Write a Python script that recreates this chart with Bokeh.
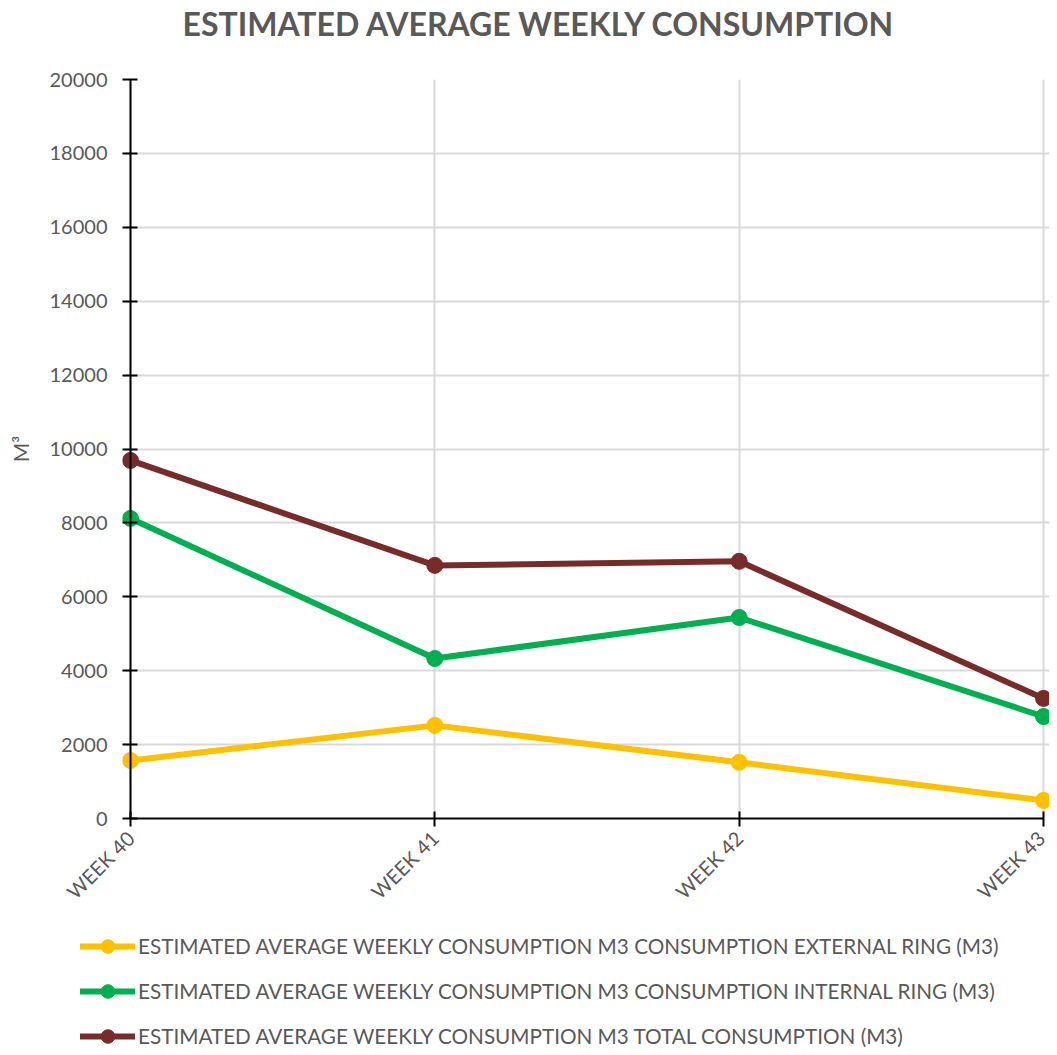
import math
from bokeh.plotting import figure
from bokeh.layouts import column
from bokeh.models import (ColumnDataSource, Range1d, FixedTicker,
                          Legend, LegendItem, Span, Label)
from bokeh.embed import file_html
from bokeh.resources import INLINE

# ---- data ----
weeks = ["WEEK 40", "WEEK 41", "WEEK 42", "WEEK 43"]
external_ring = [1570, 2520, 1520, 490]
internal_ring = [8120, 4330, 5440, 2760]
total_consumption = [9690, 6850, 6960, 3250]
series_names = [
    "ESTIMATED AVERAGE WEEKLY CONSUMPTION M3 CONSUMPTION EXTERNAL RING (M3)",
    "ESTIMATED AVERAGE WEEKLY CONSUMPTION M3 CONSUMPTION INTERNAL RING (M3)",
    "ESTIMATED AVERAGE WEEKLY CONSUMPTION M3 TOTAL CONSUMPTION (M3)",
]
y_ticks = list(range(0, 20001, 2000))
title_text = "ESTIMATED AVERAGE WEEKLY CONSUMPTION"
y_label = "M³"

colors = ["#FFC000", "#00B050", "#772C2A"]
grey = "#595959"
FONT = "Lato"
W = 1049
LEFT = 122  # left border of the main chart

xs = list(range(len(weeks)))
pad_l, pad_r = 0.02629, 0.0197


def strip(height):
    f = figure(width=W, height=height, output_backend="svg", toolbar_location=None,
               x_range=Range1d(0, 1), y_range=Range1d(0, 1),
               x_axis_location=None, y_axis_location=None, min_border=0)
    f.outline_line_color = None
    f.grid.visible = False
    return f


can_unalign = "frame_align" in figure.properties()

# ---- title strip ----
p0 = strip(67)
if can_unalign:
    p0.frame_align = False
title_x = 182 if can_unalign else 182 - LEFT
p0.add_layout(Label(x=title_x, y=44, x_units="screen", y_units="screen",
                    text=title_text, text_font=FONT, text_font_size="32px",
                    text_font_style="bold", text_color=grey,
                    text_align="left", text_baseline="middle"))

# ---- main chart ----
p = figure(width=W, height=848, output_backend="svg", toolbar_location=None,
           x_range=Range1d(xs[0] - pad_l, xs[-1] + pad_r), y_range=Range1d(0, 20000),
           min_border_left=LEFT, min_border_right=0, min_border_top=12,
           min_border_bottom=97)
p.outline_line_color = None

p.xaxis.ticker = FixedTicker(ticks=xs)
p.yaxis.ticker = FixedTicker(ticks=y_ticks)
p.xaxis.major_label_overrides = {i: w for i, w in enumerate(weeks)}
p.xaxis.major_label_orientation = math.pi / 4
p.xaxis.bounds = (xs[0], xs[-1])
p.yaxis.axis_label = y_label

p.grid.grid_line_color = "#d9d9d9"
p.grid.grid_line_width = 2

for ax in (p.xaxis, p.yaxis):
    ax.axis_line_color = "black"
    ax.axis_line_width = 2
    ax.major_tick_line_color = "black"
    ax.major_tick_line_width = 2
    ax.minor_tick_line_color = None
    ax.major_label_text_font = FONT
    ax.major_label_text_font_size = "20px"
    ax.major_label_text_color = grey
    ax.axis_label_text_font = FONT
    ax.axis_label_text_font_size = "21px"
    ax.axis_label_text_font_style = "normal"
    ax.axis_label_text_color = grey
p.xaxis.major_tick_in = 7
p.xaxis.major_tick_out = 8
p.xaxis.major_label_standoff = 8
p.xaxis.major_label_text_baseline = "top"
p.yaxis.axis_line_color = None
p.yaxis.major_tick_in = 15
p.yaxis.major_tick_out = 0
p.yaxis.major_label_standoff = 15
p.yaxis.axis_label_standoff = 14

# visible vertical axis line at the first category
p.add_layout(Span(location=xs[0], dimension="height", line_color="black", line_width=2))

for vals, color in zip([external_ring, internal_ring, total_consumption], colors):
    src = ColumnDataSource(dict(x=xs, y=vals))
    p.line("x", "y", source=src, line_width=6, line_color=color,
           line_join="round", line_cap="round")
    p.scatter("x", "y", source=src, size=16, fill_color=color, line_color=color)

# ---- legend strip below the chart (swatch-only renderers, nothing plotted) ----
nan = float("nan")
p2 = strip(132)
if can_unalign:
    p2.frame_align = False
items = []
for name, color in zip(series_names, colors):
    ln = p2.line(x=[nan], y=[nan], line_width=6, line_color=color, line_cap="round")
    sc = p2.scatter(x=[nan], y=[nan], size=14, fill_color=color, line_color=color)
    items.append(LegendItem(label=name, renderers=[ln, sc]))
legend_x = 80 if can_unalign else 0
legend = Legend(items=items, location=(legend_x, -6), orientation="vertical",
                label_text_font=FONT, label_text_font_size="20.7px",
                label_text_color=grey, glyph_width=55, glyph_height=34,
                label_height=34, label_standoff=3, spacing=11, padding=0,
                margin=0, border_line_color=None, background_fill_alpha=0)
p2.add_layout(legend, "center")

open("out.html", "w").write(file_html(column(p0, p, p2, spacing=0), INLINE))
